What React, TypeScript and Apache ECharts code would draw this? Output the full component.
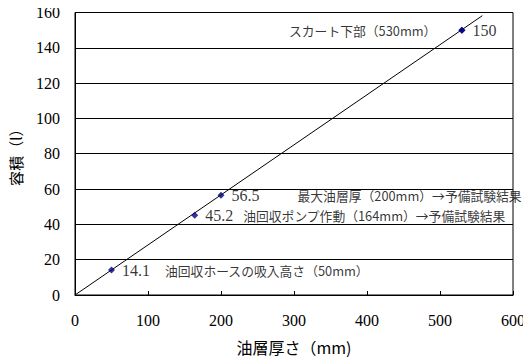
import React, { useEffect, useRef } from "react";
import * as echarts from "echarts";

const thickness = [50, 164, 200, 530];
const volume = [14.1, 45.2, 56.5, 150];
const notes = [
  "油回収ホースの吸入高さ（50mm）",
  "油回収ポンプ作動（164mm）→予備試験結果",
  "最大油層厚（200mm）→予備試験結果",
  "スカート下部（530mm）",
];
const trendX = [0, 558];
const trendY = [0, 158.2];
const xTicks = [0, 100, 200, 300, 400, 500, 600];
const yTicks = [0, 20, 40, 60, 80, 100, 120, 140, 160];

// layout: gap between value and note (px); last note drawn on the left
const noteGaps = [15, 10, 38, 0];

const NUM_FONT = "'Liberation Serif', serif";
const JP_FONT = "'Noto Sans CJK JP', sans-serif";

export default function App() {
  const ref = useRef<HTMLDivElement>(null);
  useEffect(() => {
    if (!ref.current) return;
    const chart = echarts.init(ref.current, null, { renderer: "svg" });
    const pts = thickness.map((x, i) => {
      const rightOnly = i === thickness.length - 1;
      return {
        value: [x, volume[i]],
        label: {
          show: true,
          position: "right",
          distance: 7,
          formatter: rightOnly
            ? `{n|${volume[i]}}`
            : `{n|${volume[i]}}{g${i}|}{t|${notes[i]}}`,
          rich: {
            n: { fontFamily: NUM_FONT, fontSize: 16, color: "#000" },
            t: { fontFamily: JP_FONT, fontSize: 12.8, color: "#000" },
            [`g${i}`]: { width: noteGaps[i] },
          },
        },
      };
    });
    const leftNotes = thickness
      .map((x, i) => ({ x, i }))
      .filter((d) => d.i === thickness.length - 1)
      .map((d) => ({
        value: [d.x, volume[d.i]],
        label: {
          show: true,
          position: "left",
          distance: 22,
          formatter: notes[d.i],
          fontFamily: JP_FONT,
          fontSize: 12.8,
          color: "#000",
        },
      }));
    chart.setOption({
      animation: false,
      backgroundColor: "#fff",
      grid: {
        left: 70,
        right: 18,
        top: 12.5,
        bottom: 62,
        show: true,
        borderColor: "#000",
        borderWidth: 1,
        backgroundColor: "transparent",
      },
      xAxis: {
        type: "value",
        min: xTicks[0],
        max: xTicks[xTicks.length - 1],
        interval: 100,
        name: "油層厚さ（mm)",
        nameLocation: "middle",
        nameGap: 44,
        nameTextStyle: { fontFamily: JP_FONT, fontSize: 16, color: "#000" },
        axisLine: { show: true, lineStyle: { color: "#000", width: 1 } },
        axisTick: { show: true, inside: true, length: 4, lineStyle: { color: "#000" } },
        splitLine: { show: false },
        axisLabel: { fontFamily: NUM_FONT, fontSize: 16, color: "#000", margin: 17 },
      },
      yAxis: {
        type: "value",
        min: yTicks[0],
        max: yTicks[yTicks.length - 1],
        interval: 20,
        name: "容積（l）",
        nameLocation: "middle",
        nameGap: 52,
        nameTextStyle: { fontFamily: JP_FONT, fontSize: 15, color: "#000" },
        axisLine: { show: true, lineStyle: { color: "#000", width: 1 } },
        axisTick: { show: false },
        splitLine: { show: true, lineStyle: { color: "#000", width: 1 } },
        axisLabel: { fontFamily: NUM_FONT, fontSize: 16, color: "#000", margin: 15 },
      },
      series: [
        {
          type: "line",
          data: trendX.map((x, i) => [x, trendY[i]]),
          symbol: "none",
          lineStyle: { color: "#000", width: 1 },
          silent: true,
          z: 2,
        },
        {
          type: "scatter",
          data: pts,
          symbol: "diamond",
          symbolSize: 7,
          itemStyle: { color: "#000080" },
          z: 3,
        },
        {
          type: "scatter",
          data: leftNotes,
          symbol: "diamond",
          symbolSize: 7,
          itemStyle: { color: "#000080" },
          z: 3,
        },
      ],
    });
    return () => chart.dispose();
  }, []);
  return <div ref={ref} style={{ width: 531, height: 360, marginLeft: -8, marginTop: -8 }} />;
}
